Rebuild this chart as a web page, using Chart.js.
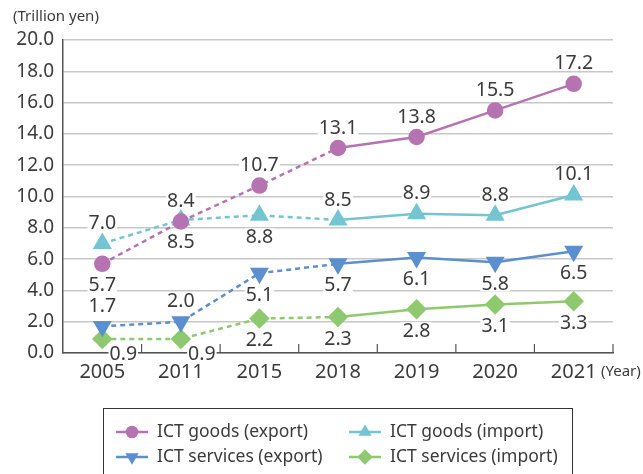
<!DOCTYPE html>
<html>
<head>
<meta charset="utf-8">
<script src="https://cdn.jsdelivr.net/npm/chart.js@4"></script>
<style>
  html, body { margin: 0; padding: 0; background: #fff; }
  #wrap { width: 643px; height: 474px; }
</style>
</head>
<body>
<div id="wrap"><canvas id="ictChart" width="643" height="474"></canvas></div>
<script>
// données
var years = ['2005', '2011', '2015', '2018', '2019', '2020', '2021'];
var goodsExport = [5.7, 8.4, 10.7, 13.1, 13.8, 15.5, 17.2];
var goodsImport = [7.0, 8.5, 8.8, 8.5, 8.9, 8.8, 10.1];
var servicesExport = [1.7, 2.0, 5.1, 5.7, 6.1, 5.8, 6.5];
var servicesImport = [0.9, 0.9, 2.2, 2.3, 2.8, 3.1, 3.3];
var yTicks = [0, 2, 4, 6, 8, 10, 12, 14, 16, 18, 20];

// placement des étiquettes : a = au-dessus, b = en dessous, r = en bas à droite
var goodsExportPos = ['b', 'a', 'a', 'a', 'a', 'a', 'a'];
var goodsImportPos = ['a', 'b', 'b', 'a', 'a', 'a', 'a'];
var servicesExportPos = ['a', 'a', 'b', 'b', 'b', 'b', 'b'];
var servicesImportPos = ['r', 'r', 'b', 'b', 'b', 'b', 'b'];

var FONT = '"Noto Sans", "Open Sans", sans-serif';
var TEXT = '#3b3b3b';
var DASHED_UNTIL = 3; // pointillés jusqu'à 2018

function dashed(ctx) {
    return ctx.p1DataIndex <= DASHED_UNTIL ? [5, 4] : undefined;
}

function serie(label, data, color, style, rot, radius, pos) {
    return {
        label: label,
        data: data,
        borderColor: color,
        backgroundColor: color,
        pointBackgroundColor: color,
        pointBorderColor: color,
        pointStyle: style,
        rotation: rot,
        pointRadius: radius,
        pointHoverRadius: radius,
        borderWidth: 2.5,
        segment: { borderDash: dashed },
        labelPos: pos
    };
}

var datasets = [
    serie('ICT goods (export)', goodsExport, '#b673b2', 'circle', 0, 7, goodsExportPos),
    serie('ICT goods (import)', goodsImport, '#72c5d1', 'triangle', 0, 8.5, goodsImportPos),
    serie('ICT services (export)', servicesExport, '#5b8fcf', 'triangle', 180, 8.5, servicesExportPos),
    serie('ICT services (import)', servicesImport, '#8fc96f', 'rectRot', 0, 8.5, servicesImportPos)
];

// petits traits vers le haut entre les années
var ticksPlugin = {
    id: 'innerTicks',
    afterDatasetsDraw: function (chart) {
        var x = chart.scales.x, c = chart.ctx, bottom = chart.chartArea.bottom;
        c.save();
        c.strokeStyle = '#555';
        c.lineWidth = 1.2;
        for (var i = 0; i < years.length; i++) {
            var px = (i < years.length - 1)
                ? (x.getPixelForValue(i) + x.getPixelForValue(i + 1)) / 2
                : chart.chartArea.right;
            c.beginPath();
            c.moveTo(px, bottom);
            c.lineTo(px, bottom - 9);
            c.stroke();
        }
        c.restore();
    }
};

// étiquettes de valeurs avec fond blanc
var labelsPlugin = {
    id: 'valueLabels',
    afterDatasetsDraw: function (chart) {
        var c = chart.ctx;
        c.save();
        c.font = '19.5px ' + FONT;
        c.textAlign = 'center';
        c.textBaseline = 'middle';
        chart.data.datasets.forEach(function (ds, di) {
            var meta = chart.getDatasetMeta(di);
            meta.data.forEach(function (pt, i) {
                var txt = ds.data[i].toFixed(1);
                var p = ds.labelPos[i];
                var x = pt.x, y = pt.y;
                if (p === 'a') y -= 21;
                else if (p === 'b') y += 21;
                else { x += 21; y += 15; }
                var w = c.measureText(txt).width;
                c.fillStyle = '#fff';
                c.fillRect(x - w / 2 - 1, y - 8, w + 2, 16);
                c.fillStyle = TEXT;
                c.fillText(txt, x, y + 1);
            });
        });
        c.restore();
    }
};

// titres d'axes et légende encadrée
var extrasPlugin = {
    id: 'extras',
    afterDraw: function (chart) {
        var c = chart.ctx;
        c.save();
        c.fillStyle = TEXT;
        c.textBaseline = 'middle';
        c.textAlign = 'left';
        c.font = '15px ' + FONT;
        c.fillText('(Trillion yen)', 13, 17);
        c.fillText('(Year)', 601, 372);

        // cadre
        c.strokeStyle = '#333';
        c.lineWidth = 1;
        c.strokeRect(103.5, 408.5, 469, 70);

        var cols = [132, 365], rows = [432, 457];
        c.font = '17.5px ' + FONT;
        chart.data.datasets.forEach(function (ds, i) {
            var mx = cols[i % 2], my = rows[Math.floor(i / 2)];
            c.strokeStyle = ds.borderColor;
            c.lineWidth = 2.5;
            c.beginPath();
            c.moveTo(mx - 16, my);
            c.lineTo(mx + 16, my);
            c.stroke();
            c.fillStyle = ds.borderColor;
            Chart.helpers.drawPoint(c, {
                pointStyle: ds.pointStyle,
                rotation: ds.rotation,
                radius: ds.pointRadius * 0.9,
                borderWidth: 0
            }, mx, my);
            c.fillStyle = TEXT;
            c.fillText(ds.label, mx + 25, my);
        });
        c.restore();
    }
};

var ctx = document.getElementById('ictChart').getContext('2d');
var ictChart = new Chart(ctx, {
    type: 'line',
    data: { labels: years, datasets: datasets },
    options: {
        responsive: false,
        animation: false,
        layout: { padding: { top: 40, right: 30, left: 0, bottom: 0 } },
        plugins: {
            legend: { display: false },
            tooltip: { enabled: false }
        },
        scales: {
            x: {
                offset: true,
                grid: { display: false, drawTicks: false },
                border: { display: true, color: '#555', width: 1.5 },
                ticks: {
                    color: TEXT,
                    font: { family: FONT, size: 20 },
                    padding: 7,
                    maxRotation: 0
                },
                afterFit: function (scale) { scale.height = 121; }
            },
            y: {
                min: 0,
                max: 20,
                afterBuildTicks: function (scale) {
                    scale.ticks = yTicks.map(function (v) { return { value: v }; });
                },
                grid: { color: '#c8c8c8', lineWidth: 1.5, drawTicks: false },
                border: { display: true, color: '#555', width: 1.5 },
                ticks: {
                    color: TEXT,
                    font: { family: FONT, size: 19 },
                    padding: 9,
                    callback: function (v) { return Number(v).toFixed(1); }
                },
                afterFit: function (scale) { scale.width = 63; }
            }
        }
    },
    plugins: [ticksPlugin, labelsPlugin, extrasPlugin]
});
</script>
</body>
</html>
